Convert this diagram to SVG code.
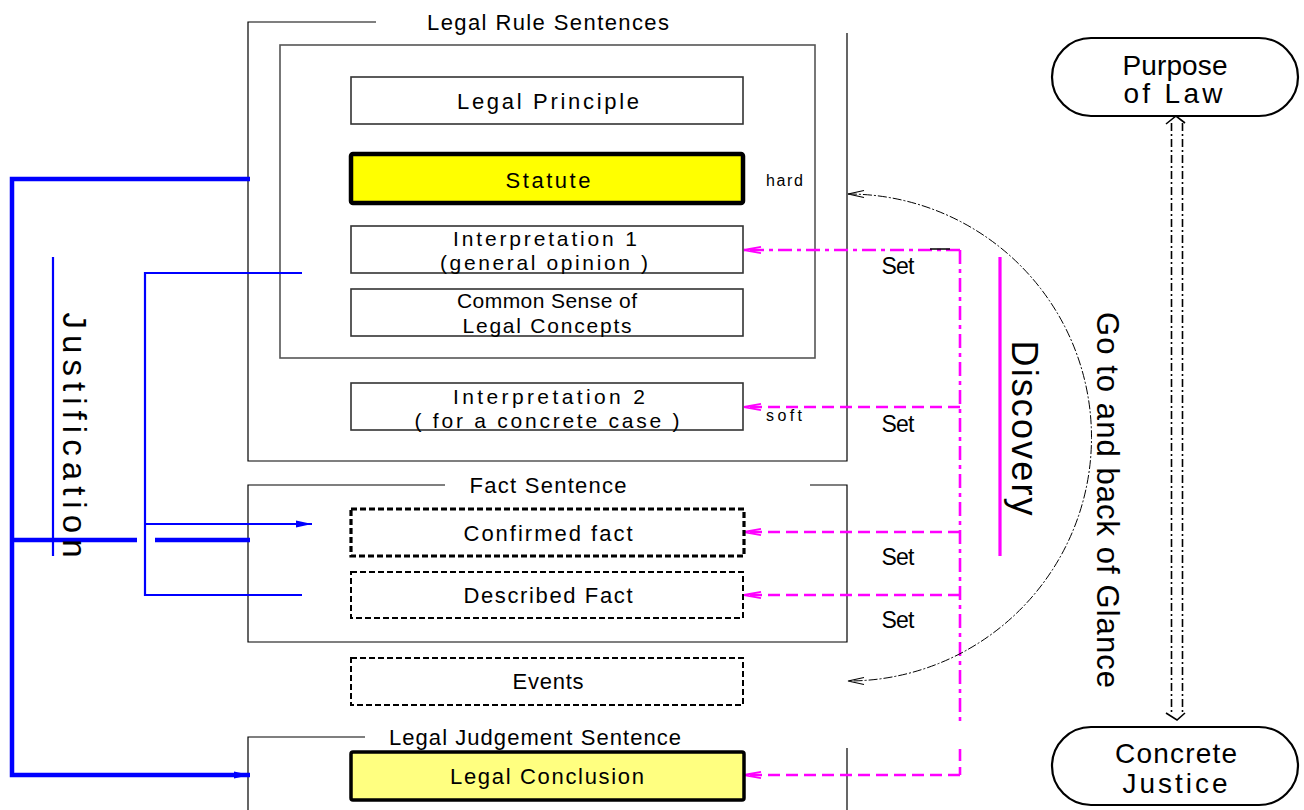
<svg xmlns="http://www.w3.org/2000/svg" width="1304" height="810" viewBox="0 0 1304 810">
<defs>
<style>
text{font-family:"Liberation Sans",Arial,sans-serif;fill:#000;}
.lbl{font-size:22px;text-anchor:middle;}
.lbl2{font-size:21px;text-anchor:middle;}
.sm{font-size:16px;}
.set{font-size:23px;text-anchor:middle;}
.frame{fill:none;stroke:#000;stroke-width:1.2;}
.inner{fill:none;stroke:#555;stroke-width:1.6;}
.box{fill:#fff;stroke:#333;stroke-width:1.6;}
.dbox{fill:#fff;stroke:#000;stroke-width:2;stroke-dasharray:6 3;}
.dboxb{fill:#fff;stroke:#000;stroke-width:3.2;stroke-dasharray:6 3;}
.bT{stroke:#0000ff;stroke-width:4.5;fill:none;}
.bt{stroke:#0000ff;stroke-width:2.2;fill:none;}
.mg{stroke:#ff00ff;stroke-width:2.6;fill:none;stroke-dasharray:12 6;}
.mgdd{stroke:#ff00ff;stroke-width:2.6;fill:none;stroke-dasharray:14 5 4 5;}
.oval{fill:#fff;stroke:#000;stroke-width:2.2;}
.big{font-size:28px;text-anchor:middle;}
</style>
<marker id="bArr" markerUnits="userSpaceOnUse" markerWidth="20" markerHeight="12" viewBox="-18 -6 20 12" refX="0" refY="0" orient="auto">
<path d="M-16,-3.5 L0,0 L-16,3.5 z" fill="#0000ff"/>
</marker>
<marker id="mArr" markerUnits="userSpaceOnUse" markerWidth="22" markerHeight="12" viewBox="-20 -6 22 12" refX="0" refY="0" orient="auto">
<path d="M-17,-3.2 L0,0 L-17,3.2" fill="none" stroke="#ff00ff" stroke-width="1.8"/>
</marker>
<marker id="kArr" markerUnits="userSpaceOnUse" markerWidth="24" markerHeight="12" viewBox="-20 -6 22 12" refX="0" refY="0" orient="auto-start-reverse">
<path d="M-16,-3.5 L0,0 L-16,3.5" fill="none" stroke="#000" stroke-width="1.1"/>
</marker>
</defs>

<g id="frames">
<path class="frame" d="M376,22 H248 V461 H847 V33"/>
<rect class="inner" x="280" y="45" width="535" height="313"/>
<text class="lbl" x="548" y="30" textLength="242" lengthAdjust="spacing">Legal Rule Sentences</text>
<path class="frame" d="M445,485 H248 V642 H847 V485 H810"/>
<text class="lbl" x="548" y="493" textLength="157" lengthAdjust="spacing">Fact Sentence</text>
<path class="frame" d="M365,737 H248 V810"/>
<path class="frame" d="M847,748 V810"/>
<text class="lbl" x="535" y="745" textLength="292" lengthAdjust="spacing">Legal Judgement Sentence</text>
</g>

<g id="connectors">
<path class="bT" d="M250,179 H12 V775 H236"/>
<line class="bT" x1="236" y1="775" x2="250" y2="775" marker-end="url(#bArr)"/>
<line class="bT" x1="12" y1="540" x2="137" y2="540"/>
<line class="bT" x1="155" y1="540" x2="250" y2="540"/>
<line class="bt" x1="53" y1="257" x2="53" y2="556"/>
<path class="bt" d="M302,273 H145 V595 H302"/>
<line class="bt" x1="145" y1="524" x2="312" y2="524" marker-end="url(#bArr)"/>
<line class="mgdd" x1="960" y1="250" x2="960" y2="723"/>
<line class="mg" x1="960" y1="749" x2="960" y2="775"/>
<line class="mgdd" x1="960" y1="250" x2="744" y2="250" marker-end="url(#mArr)"/>
<line x1="930" y1="249" x2="950" y2="249" stroke="#000" stroke-width="1.5"/>
<line class="mg" x1="960" y1="407" x2="744" y2="407" marker-end="url(#mArr)"/>
<line class="mg" x1="960" y1="532" x2="744" y2="532" marker-end="url(#mArr)"/>
<line class="mg" x1="960" y1="595" x2="744" y2="595" marker-end="url(#mArr)"/>
<line class="mg" x1="960" y1="775" x2="744" y2="775" marker-end="url(#mArr)"/>
<line x1="1000" y1="257" x2="1000" y2="556" stroke="#ff00ff" stroke-width="3.2"/>
<path d="M848,194 A243.5,243.5 0 0 1 848,681" fill="none" stroke="#000" stroke-width="1" stroke-dasharray="9 2 2 2" marker-start="url(#kArr)" marker-end="url(#kArr)"/>
<g fill="none" stroke="#000" stroke-width="1.6">
<line x1="1171.5" y1="123" x2="1171.5" y2="713" stroke-dasharray="8 3 2 3"/>
<line x1="1182.5" y1="123" x2="1182.5" y2="713" stroke-dasharray="8 3 2 3"/>
<path d="M1166,124 L1176,116 L1185,123"/>
<path d="M1166,713 L1177,720 L1185,713"/>
</g>
</g>

<g id="n-legal-principle">
<rect class="box" x="351" y="77" width="392" height="47"/>
<text class="lbl" x="548" y="109" textLength="182" lengthAdjust="spacing">Legal Principle</text>
</g>
<g id="n-statute">
<rect x="351" y="154" width="392" height="49" rx="2" fill="#ffff00" stroke="#000" stroke-width="4.5"/>
<text class="lbl" x="548" y="188" textLength="85" lengthAdjust="spacing">Statute</text>
<text class="sm" x="766" y="186" textLength="37" lengthAdjust="spacing">hard</text>
</g>
<g id="n-interp1">
<rect class="box" x="351" y="226" width="392" height="47"/>
<text class="lbl2" x="545" y="246" textLength="184" lengthAdjust="spacing">Interpretation 1</text>
<text class="lbl2" x="544" y="270" textLength="208" lengthAdjust="spacing">(general opinion )</text>
</g>
<g id="n-common-sense">
<rect class="box" x="351" y="289" width="392" height="47"/>
<text class="lbl2" x="547" y="308" textLength="180" lengthAdjust="spacing">Common Sense of</text>
<text class="lbl2" x="547" y="333" textLength="169" lengthAdjust="spacing">Legal Concepts</text>
</g>
<g id="n-interp2">
<rect class="box" x="351" y="383" width="392" height="47"/>
<text class="lbl2" x="549" y="404" textLength="192" lengthAdjust="spacing">Interpretation 2</text>
<text class="lbl2" x="547" y="428" textLength="265" lengthAdjust="spacing">( for a concrete case )</text>
<text class="sm" x="766" y="421" textLength="36" lengthAdjust="spacing">soft</text>
</g>
<g id="n-confirmed-fact">
<rect class="dboxb" x="351" y="509" width="393" height="47"/>
<text class="lbl" x="548" y="541" textLength="169" lengthAdjust="spacing">Confirmed fact</text>
</g>
<g id="n-described-fact">
<rect class="dbox" x="351" y="572" width="392" height="46"/>
<text class="lbl" x="548" y="603" textLength="169" lengthAdjust="spacing">Described Fact</text>
</g>
<g id="n-events">
<rect class="dbox" x="351" y="658" width="392" height="47"/>
<text class="lbl" x="548" y="689" textLength="71" lengthAdjust="spacing">Events</text>
</g>
<g id="n-legal-conclusion">
<rect x="351" y="752" width="393" height="48" rx="2" fill="#ffff80" stroke="#000" stroke-width="3.5"/>
<text class="lbl" x="547" y="784" textLength="194" lengthAdjust="spacing">Legal Conclusion</text>
</g>

<g id="labels">
<text class="set" x="898" y="274" textLength="33" lengthAdjust="spacing">Set</text>
<text class="set" x="898" y="432" textLength="33" lengthAdjust="spacing">Set</text>
<text class="set" x="898" y="565" textLength="33" lengthAdjust="spacing">Set</text>
<text class="set" x="898" y="628" textLength="33" lengthAdjust="spacing">Set</text>
<text transform="translate(63,435) rotate(90)" style="font-size:33px;text-anchor:middle" textLength="245" lengthAdjust="spacing">Justification</text>
<text transform="translate(1012,428) rotate(90)" style="font-size:36px;text-anchor:middle" textLength="175" lengthAdjust="spacing">Discovery</text>
<text transform="translate(1097,500) rotate(90)" style="font-size:31px;text-anchor:middle" textLength="376" lengthAdjust="spacing">Go to and back of Glance</text>
</g>

<g id="n-purpose">
<rect class="oval" x="1052" y="38" width="246" height="78" rx="39" ry="39"/>
<text class="big" x="1175" y="75" textLength="105" lengthAdjust="spacing">Purpose</text>
<text class="big" x="1173" y="103" textLength="99" lengthAdjust="spacing">of Law</text>
</g>
<g id="n-concrete-justice">
<rect class="oval" x="1052" y="727" width="246" height="78" rx="39" ry="39"/>
<text class="big" x="1176" y="763" textLength="122" lengthAdjust="spacing">Concrete</text>
<text class="big" x="1175" y="793" textLength="105" lengthAdjust="spacing">Justice</text>
</g>
</svg>
